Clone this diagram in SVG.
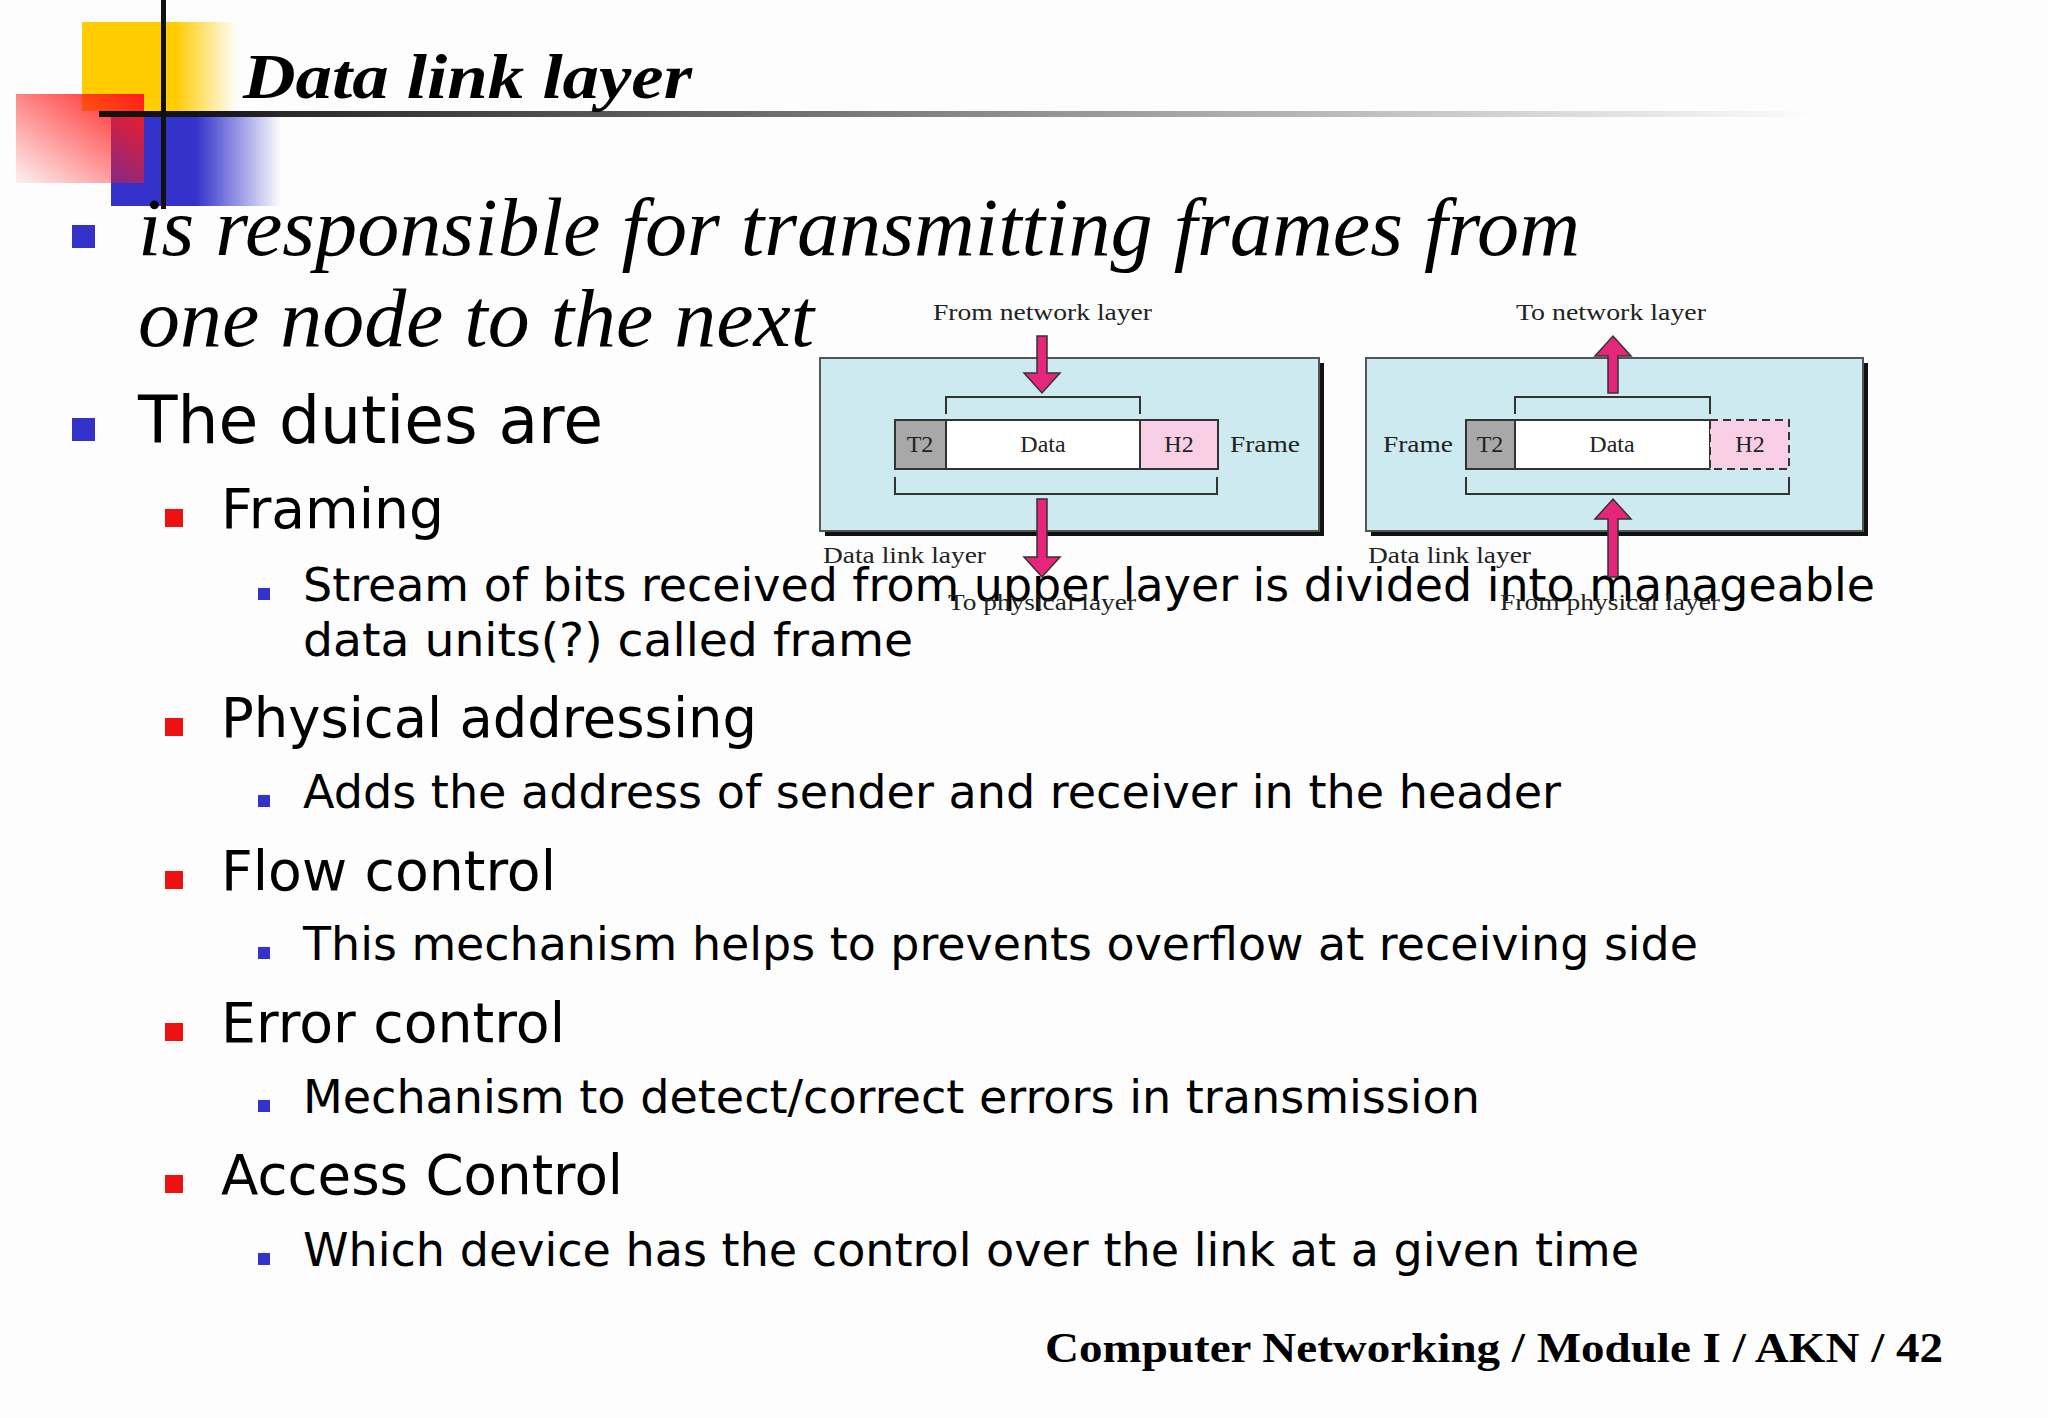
<svg xmlns="http://www.w3.org/2000/svg" width="2048" height="1418" viewBox="0 0 2048 1418">
<defs>
<linearGradient id="gy" x1="0" x2="1"><stop offset="0.6" stop-color="#ffcc00"/><stop offset="1" stop-color="#ffcc00" stop-opacity="0"/></linearGradient>
<linearGradient id="gr" x1="1" x2="0" y1="0" y2="1"><stop offset="0" stop-color="#ff1a1a"/><stop offset="1" stop-color="#ff1a1a" stop-opacity="0.05"/></linearGradient>
<linearGradient id="gb" x1="0" x2="1"><stop offset="0.5" stop-color="#3333cc"/><stop offset="1" stop-color="#3333cc" stop-opacity="0"/></linearGradient>
<linearGradient id="gl" x1="0" x2="1"><stop offset="0" stop-color="#111"/><stop offset="1" stop-color="#111" stop-opacity="0"/></linearGradient>
<style>
.t{font-family:"Liberation Serif",serif}
.s{font-family:"DejaVu Sans","Liberation Sans",sans-serif;fill:#000}
.l1{font-size:66px}.l2{font-size:56px}.l3{font-size:47px}
.b1{fill:#3333cc}.b2{fill:#ee1111}
.d{font-family:"Liberation Serif",serif;font-size:24px;fill:#222}
.box{fill:#cdeaf0;stroke:#555;stroke-width:2}
.br{fill:none;stroke:#333;stroke-width:2}
.ar{fill:#e6267a;stroke:#333;stroke-width:1.5}
</style>
</defs>
<rect width="2048" height="1418" fill="#fdfdfd"/>
<rect x="82" y="22" width="155" height="89" fill="url(#gy)"/>
<rect x="111" y="111" width="170" height="95" fill="url(#gb)"/>
<rect x="16" y="94" width="128" height="89" fill="url(#gr)"/>
<rect x="161" y="0" width="5" height="209" fill="#111"/>
<rect x="99" y="111" width="1716" height="6" fill="url(#gl)"/>
<text class="t" x="243" y="98" font-size="64" font-weight="bold" font-style="italic" textLength="449" lengthAdjust="spacingAndGlyphs">Data link layer</text>

<rect class="b1" x="72" y="225" width="23" height="23"/>
<text class="t" x="138" y="255" font-size="82" font-style="italic" textLength="1442" lengthAdjust="spacingAndGlyphs">is responsible for transmitting frames from</text>
<text class="t" x="138" y="346" font-size="82" font-style="italic" textLength="676" lengthAdjust="spacingAndGlyphs">one node to the next</text>
<rect class="b1" x="72" y="418" width="23" height="23"/>
<text class="s l1" x="138" y="443" textLength="465" lengthAdjust="spacingAndGlyphs">The duties are</text>

<rect class="b2" x="165" y="509" width="18" height="18"/>
<text class="s l2" x="221" y="528" textLength="223" lengthAdjust="spacingAndGlyphs">Framing</text>
<rect class="b1" x="258" y="588" width="12" height="12"/>
<text class="s l3" x="303" y="601" textLength="1572" lengthAdjust="spacingAndGlyphs">Stream of bits received from upper layer is divided into manageable</text>
<text class="s l3" x="303" y="656" textLength="610" lengthAdjust="spacingAndGlyphs">data units(?)  called frame</text>
<rect class="b2" x="165" y="718" width="18" height="18"/>
<text class="s l2" x="221" y="737" textLength="536" lengthAdjust="spacingAndGlyphs">Physical addressing</text>
<rect class="b1" x="258" y="795" width="12" height="12"/>
<text class="s l3" x="303" y="808" textLength="1258" lengthAdjust="spacingAndGlyphs">Adds the address of sender and receiver in the header</text>
<rect class="b2" x="165" y="871" width="18" height="18"/>
<text class="s l2" x="221" y="890" textLength="335" lengthAdjust="spacingAndGlyphs">Flow control</text>
<rect class="b1" x="258" y="947" width="12" height="12"/>
<text class="s l3" x="303" y="960" textLength="1395" lengthAdjust="spacingAndGlyphs">This mechanism helps to prevents overflow at receiving side</text>
<rect class="b2" x="165" y="1023" width="18" height="18"/>
<text class="s l2" x="221" y="1042" textLength="344" lengthAdjust="spacingAndGlyphs">Error control</text>
<rect class="b1" x="258" y="1100" width="12" height="12"/>
<text class="s l3" x="303" y="1113" textLength="1177" lengthAdjust="spacingAndGlyphs">Mechanism to detect/correct errors in transmission</text>
<rect class="b2" x="165" y="1175" width="18" height="18"/>
<text class="s l2" x="221" y="1194" textLength="402" lengthAdjust="spacingAndGlyphs">Access Control</text>
<rect class="b1" x="258" y="1253" width="12" height="12"/>
<text class="s l3" x="303" y="1266" textLength="1336" lengthAdjust="spacingAndGlyphs">Which device has the control over the link at a given time</text>

<text class="t" x="1045" y="1362" font-size="42" font-weight="bold" textLength="898" lengthAdjust="spacingAndGlyphs">Computer Networking / Module I / AKN / 42</text>

<g id="sender">
<rect x="825" y="363" width="499" height="173" fill="#111"/>
<rect class="box" x="820" y="358" width="499" height="173"/>
<rect x="895" y="420" width="51" height="49" fill="#a8a8a8" stroke="#333" stroke-width="2"/>
<rect x="946" y="420" width="194" height="49" fill="#fff" stroke="#333" stroke-width="2"/>
<rect x="1140" y="420" width="78" height="49" fill="#f9cfe6" stroke="#333" stroke-width="2"/>
<text class="d" x="920" y="452" text-anchor="middle">T2</text>
<text class="d" x="1043" y="452" text-anchor="middle">Data</text>
<text class="d" x="1179" y="452" text-anchor="middle">H2</text>
<text class="d" x="1230" y="452" textLength="70" lengthAdjust="spacingAndGlyphs">Frame</text>
<path class="br" d="M946 414V397H1140V414M895 477V494H1217V477"/>
<text class="d" x="933" y="320" textLength="219" lengthAdjust="spacingAndGlyphs">From network layer</text>
<path class="ar" d="M1037 336H1047V373H1060L1042 393L1024 373H1037Z"/>
<path class="ar" d="M1037 499H1047V557H1060L1042 577L1024 557H1037Z"/>
<text class="d" x="823" y="563" textLength="163" lengthAdjust="spacingAndGlyphs">Data link layer</text>
<text class="d" x="948" y="610" textLength="188" lengthAdjust="spacingAndGlyphs">To physical layer</text>
</g>
<g id="receiver">
<rect x="1371" y="363" width="497" height="173" fill="#111"/>
<rect class="box" x="1366" y="358" width="497" height="173"/>
<rect x="1466" y="420" width="49" height="49" fill="#a8a8a8" stroke="#333" stroke-width="2"/>
<rect x="1515" y="420" width="195" height="49" fill="#fff" stroke="#333" stroke-width="2"/>
<rect x="1710" y="420" width="79" height="49" fill="#f9cfe6" stroke="#333" stroke-width="2" stroke-dasharray="8 5"/>
<text class="d" x="1490" y="452" text-anchor="middle">T2</text>
<text class="d" x="1612" y="452" text-anchor="middle">Data</text>
<text class="d" x="1750" y="452" text-anchor="middle">H2</text>
<text class="d" x="1383" y="452" textLength="70" lengthAdjust="spacingAndGlyphs">Frame</text>
<path class="br" d="M1515 414V397H1710V414M1466 477V494H1789V477"/>
<text class="d" x="1516" y="320" textLength="190" lengthAdjust="spacingAndGlyphs">To network layer</text>
<path class="ar" d="M1608 393H1618V356H1631L1613 336L1595 356H1608Z"/>
<path class="ar" d="M1608 577H1618V519H1631L1613 499L1595 519H1608Z"/>
<text class="d" x="1368" y="563" textLength="163" lengthAdjust="spacingAndGlyphs">Data link layer</text>
<text class="d" x="1500" y="610" textLength="220" lengthAdjust="spacingAndGlyphs">From physical layer</text>
</g>
</svg>
